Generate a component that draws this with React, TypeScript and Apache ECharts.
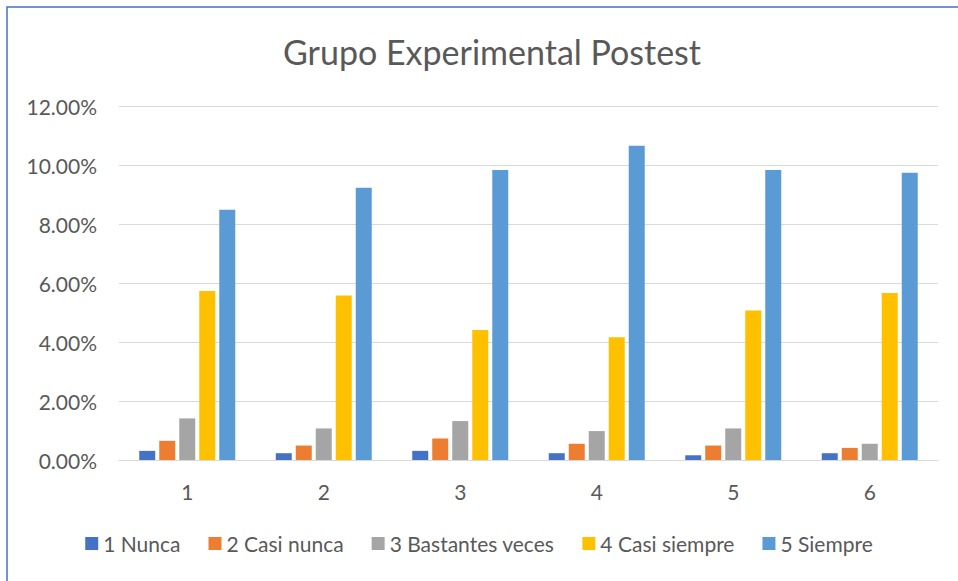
import React, { useEffect, useRef } from "react";
import * as echarts from "echarts";

const categories = ["1", "2", "3", "4", "5", "6"];
const seriesNames = ["1 Nunca", "2 Casi nunca", "3 Bastantes veces", "4 Casi siempre", "5 Siempre"];
const nunca = [0.31, 0.23, 0.31, 0.23, 0.16, 0.23];
const casiNunca = [0.65, 0.49, 0.73, 0.55, 0.49, 0.41];
const bastantes = [1.41, 1.07, 1.32, 0.98, 1.07, 0.55];
const casiSiempre = [5.73, 5.58, 4.41, 4.16, 5.07, 5.66];
const siempre = [8.48, 9.23, 9.83, 10.65, 9.83, 9.74];
const yTicks = [0, 2, 4, 6, 8, 10, 12];
const colors = ["#4472C4", "#ED7D31", "#A5A5A5", "#FFC000", "#5B9BD5"];

const FONT = "Lato";

export default function App() {
  const ref = useRef<HTMLDivElement>(null);
  useEffect(() => {
    if (!ref.current) return;
    const chart = echarts.init(ref.current, null, { renderer: "svg" });
    const values = [nunca, casiNunca, bastantes, casiSiempre, siempre];
    chart.setOption({
      animation: false,
      backgroundColor: "#ffffff",
      color: colors,
      title: {
        text: "Grupo Experimental Postest",
        left: 487,
        textAlign: "center",
        top: 29,
        textStyle: { fontFamily: FONT, fontSize: 34, fontWeight: "normal", color: "#595959" },
      },
      legend: {
        data: seriesNames,
        bottom: 22,
        left: "center",
        itemWidth: 13,
        itemHeight: 13,
        itemGap: 28,
        icon: "rect",
        textStyle: { fontFamily: FONT, fontSize: 21, color: "#595959" },
      },
      grid: { left: 119, right: 20, top: 106, bottom: 121, containLabel: false },
      xAxis: {
        type: "category",
        data: categories,
        axisLine: { lineStyle: { color: "#D9D9D9", width: 1 } },
        axisTick: { show: false },
        axisLabel: { fontFamily: FONT, fontSize: 21, color: "#595959", margin: 21 },
      },
      yAxis: {
        type: "value",
        min: yTicks[0],
        max: yTicks[yTicks.length - 1],
        interval: 2,
        axisLine: { show: false },
        axisTick: { show: false },
        splitLine: { lineStyle: { color: "#D9D9D9", width: 1 } },
        axisLabel: {
          fontFamily: FONT,
          fontSize: 21,
          color: "#595959",
          margin: 22,
          formatter: (v: number) => v.toFixed(2) + "%",
        },
      },
      series: seriesNames.map((name, i) => ({
        name,
        type: "bar",
        data: values[i],
        barWidth: 16,
        barGap: "25%",
        itemStyle: { color: colors[i] },
      })),
      graphic: [
        {
          type: "rect",
          shape: { x: 7, y: 7, width: 1000, height: 700 },
          style: { fill: "none", stroke: "#4472C4", lineWidth: 1.5 },
          silent: true,
        },
      ],
    });
    return () => chart.dispose();
  }, []);
  return (
    <div
      ref={ref}
      style={{ position: "fixed", left: 0, top: 0, width: 958, height: 581 }}
    />
  );
}
